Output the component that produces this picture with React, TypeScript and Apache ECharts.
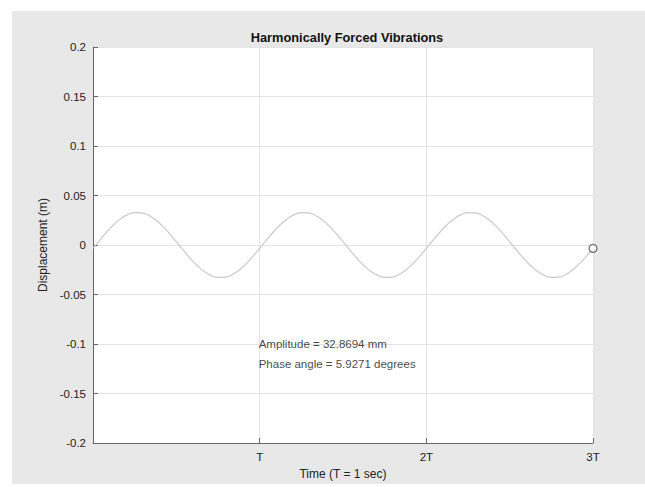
import React, { useEffect, useRef } from "react";
import * as echarts from "echarts";

// Displacement (m) sampled every T/24 over three periods
const displacement = [
  -0.0034, 0.0052, 0.0134, 0.0207, 0.0266, 0.0307, 0.0327, 0.0325, 0.03, 0.0255, 0.0193, 0.0117,
  0.0034, -0.0052, -0.0134, -0.0207, -0.0266, -0.0307, -0.0327, -0.0325, -0.03, -0.0255, -0.0193, -0.0117,
  -0.0034, 0.0052, 0.0134, 0.0207, 0.0266, 0.0307, 0.0327, 0.0325, 0.03, 0.0255, 0.0193, 0.0117,
  0.0034, -0.0052, -0.0134, -0.0207, -0.0266, -0.0307, -0.0327, -0.0325, -0.03, -0.0255, -0.0193, -0.0117,
  -0.0034, 0.0052, 0.0134, 0.0207, 0.0266, 0.0307, 0.0327, 0.0325, 0.03, 0.0255, 0.0193, 0.0117,
  0.0034, -0.0052, -0.0134, -0.0207, -0.0266, -0.0307, -0.0327, -0.0325, -0.03, -0.0255, -0.0193, -0.0117,
  -0.0034,
];
const samplesPerPeriod = 24;
const xTickLabels = ["", "T", "2T", "3T"];
const yTickValues = [-0.2, -0.15, -0.1, -0.05, 0, 0.05, 0.1, 0.15, 0.2];
const yTickLabels = ["-0.2", "-0.15", "-0.1", "-0.05", "0", "0.05", "0.1", "0.15", "0.2"];
const annotationLines = ["Amplitude = 32.8694 mm", "Phase angle = 5.9271 degrees"];
const annotationX = 1;
const annotationY = [-0.1, -0.1197];

const FONT = "'Liberation Sans', Arial, Helvetica, sans-serif";

export default function App() {
  const ref = useRef<HTMLDivElement>(null);
  useEffect(() => {
    if (!ref.current) return;
    const chart = echarts.init(ref.current, undefined, { renderer: "svg" });
    const points = displacement.map((v, i) => [i / samplesPerPeriod, v]);
    const last = points[points.length - 1];
    chart.setOption({
      animation: false,
      backgroundColor: "transparent",
      title: {
        text: "Harmonically Forced Vibrations",
        left: 342,
        textAlign: "center",
        top: 26,
        textStyle: { fontFamily: FONT, fontSize: 12.8, fontWeight: "bold", color: "#111" },
      },
      grid: {
        left: 93,
        right: 52,
        top: 47,
        bottom: 44,
        show: true,
        backgroundColor: "#ffffff",
        borderWidth: 0,
      },
      xAxis: {
        type: "value",
        min: 0,
        max: 3,
        interval: 1,
        name: "Time (T = 1 sec)",
        nameLocation: "middle",
        nameGap: 20,
        nameTextStyle: { fontFamily: FONT, fontSize: 12, color: "#222" },
        axisLine: { show: true, onZero: false, lineStyle: { color: "#666", width: 1 } },
        axisTick: { show: true, inside: true, length: 5, lineStyle: { color: "#666" } },
        axisLabel: {
          fontFamily: FONT,
          fontSize: 11.5,
          color: "#222",
          margin: 8,
          formatter: (v: number) => xTickLabels[Math.round(v)] ?? "",
        },
        splitLine: { show: true, lineStyle: { color: "#e3e3e3", width: 1 } },
      },
      yAxis: {
        type: "value",
        min: -0.2,
        max: 0.2,
        interval: 0.05,
        name: "Displacement (m)",
        nameLocation: "middle",
        nameGap: 33,
        nameTextStyle: { fontFamily: FONT, fontSize: 12, color: "#222" },
        axisLine: { show: true, onZero: false, lineStyle: { color: "#666", width: 1 } },
        axisTick: { show: true, inside: true, length: 5, lineStyle: { color: "#666" } },
        axisLabel: {
          fontFamily: FONT,
          fontSize: 11.5,
          color: "#222",
          margin: 7,
          formatter: (v: number) => {
            const idx = yTickValues.findIndex((t) => Math.abs(t - v) < 1e-9);
            return idx >= 0 ? yTickLabels[idx] : "";
          },
        },
        splitLine: { show: true, lineStyle: { color: "#e3e3e3", width: 1 } },
      },
      series: [
        {
          type: "line",
          data: points,
          smooth: true,
          showSymbol: false,
          lineStyle: { color: "#c9c9c9", width: 1.2 },
          z: 3,
        },
        {
          type: "scatter",
          data: [last],
          symbol: "circle",
          symbolSize: 8,
          itemStyle: { color: "#ffffff", borderColor: "#555", borderWidth: 1.3 },
          z: 4,
        },
        {
          type: "scatter",
          data: annotationLines.map((txt, i) => ({ value: [annotationX, annotationY[i]], name: txt })),
          symbolSize: 0,
          label: {
            show: true,
            position: "right",
            distance: -1,
            formatter: (p: any) => p.name,
            fontFamily: FONT,
            fontSize: 11.5,
            color: "#111",
          },
          z: 5,
        },
      ],
    });
    return () => chart.dispose();
  }, []);
  return (
    <div style={{ position: "absolute", left: 0, top: 0, width: 645, height: 487, background: "#fff", overflow: "hidden" }}>
      <div style={{ position: "absolute", left: 12, top: 11, right: 0, bottom: 3, background: "#e8e8e8" }} />
      <div ref={ref} style={{ position: "absolute", left: 0, top: 0, width: 645, height: 487 }} />
    </div>
  );
}
